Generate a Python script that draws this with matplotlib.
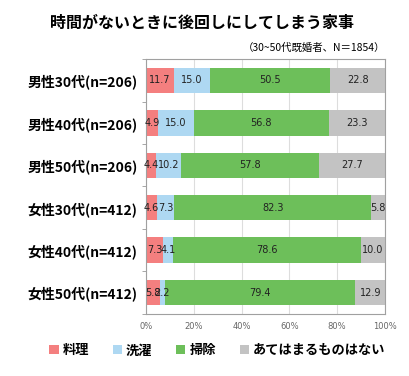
import numpy as np
import matplotlib
matplotlib.use('Agg')
import matplotlib.pyplot as plt
from matplotlib.patches import Patch

plt.rcParams['font.family'] = ['Noto Sans CJK JP', 'DejaVu Sans']

grupos = ['男性30代(n=206)', '男性40代(n=206)', '男性50代(n=206)',
          '女性30代(n=412)', '女性40代(n=412)', '女性50代(n=412)']
series = ['料理', '洗濯', '掃除', 'あてはまるものはない']
ryouri = [11.7, 4.9, 4.4, 4.6, 7.3, 5.8]
sentaku = [15.0, 15.0, 10.2, 7.3, 4.1, 2.2]
souji = [50.5, 56.8, 57.8, 82.3, 78.6, 79.4]
nashi = [22.8, 23.3, 27.7, 5.8, 10.0, 12.9]
colores = ['#f47f7f', '#aed8f2', '#6dbf5a', '#c3c3c3']
xticks = [0, 20, 40, 60, 80, 100]

fig = plt.figure(figsize=(4.1, 3.76), dpi=100)
ax = fig.add_axes([0.356, 0.165, 0.583, 0.678])

y = np.arange(len(grupos))
izq = np.zeros(len(grupos))
for nombre, vals, col in zip(series, [ryouri, sentaku, souji, nashi], colores):
    vals = np.array(vals)
    ax.barh(y, vals, left=izq, height=0.6, color=col, zorder=2)
    for yi, l, v in zip(y, izq, vals):
        ax.text(l + v / 2, yi, f'{v:.1f}', ha='center', va='center',
                fontsize=7, color='#222222', family='DejaVu Sans', zorder=3)
    izq = izq + vals

ax.set_xlim(0, 100)
ax.set_ylim(len(grupos) - 0.5, -0.5)
ax.set_xticks(xticks)
ax.set_xticklabels([f'{v}%' for v in xticks], fontsize=6, color='#666666',
                   family='DejaVu Sans')
ax.tick_params(axis='x', length=0, pad=6)
ax.set_yticks(y)
ax.set_yticklabels(grupos, fontsize=10, fontweight='bold')
ax.tick_params(axis='y', length=0, pad=6)
ax.set_yticks(np.arange(-0.5, len(grupos)), minor=True)
ax.tick_params(axis='y', which='minor', length=3, color='#999999')
ax.grid(axis='x', color='#dddddd', linewidth=0.8, zorder=0)
for s in ax.spines.values():
    s.set_color('#a0a0a0')
    s.set_linewidth(0.8)

fig.text(0.493, 0.94, '時間がないときに後回しにしてしまう家事', ha='center', va='center',
         fontsize=11.5, fontweight='bold')
fig.text(0.94, 0.873, '（30~50代既婚者、N＝1854）', ha='right', va='center', fontsize=7.5)

handles = [Patch(facecolor=c, edgecolor='none') for c in colores]
fig.legend(handles, series, loc='center', bbox_to_anchor=(0.53, 0.068), ncol=4,
           frameon=False, prop={'size': 9.5, 'weight': 'bold'},
           handlelength=0.7, handleheight=0.7, handletextpad=0.3, columnspacing=1.8)

fig.savefig('out.png', dpi=100)
